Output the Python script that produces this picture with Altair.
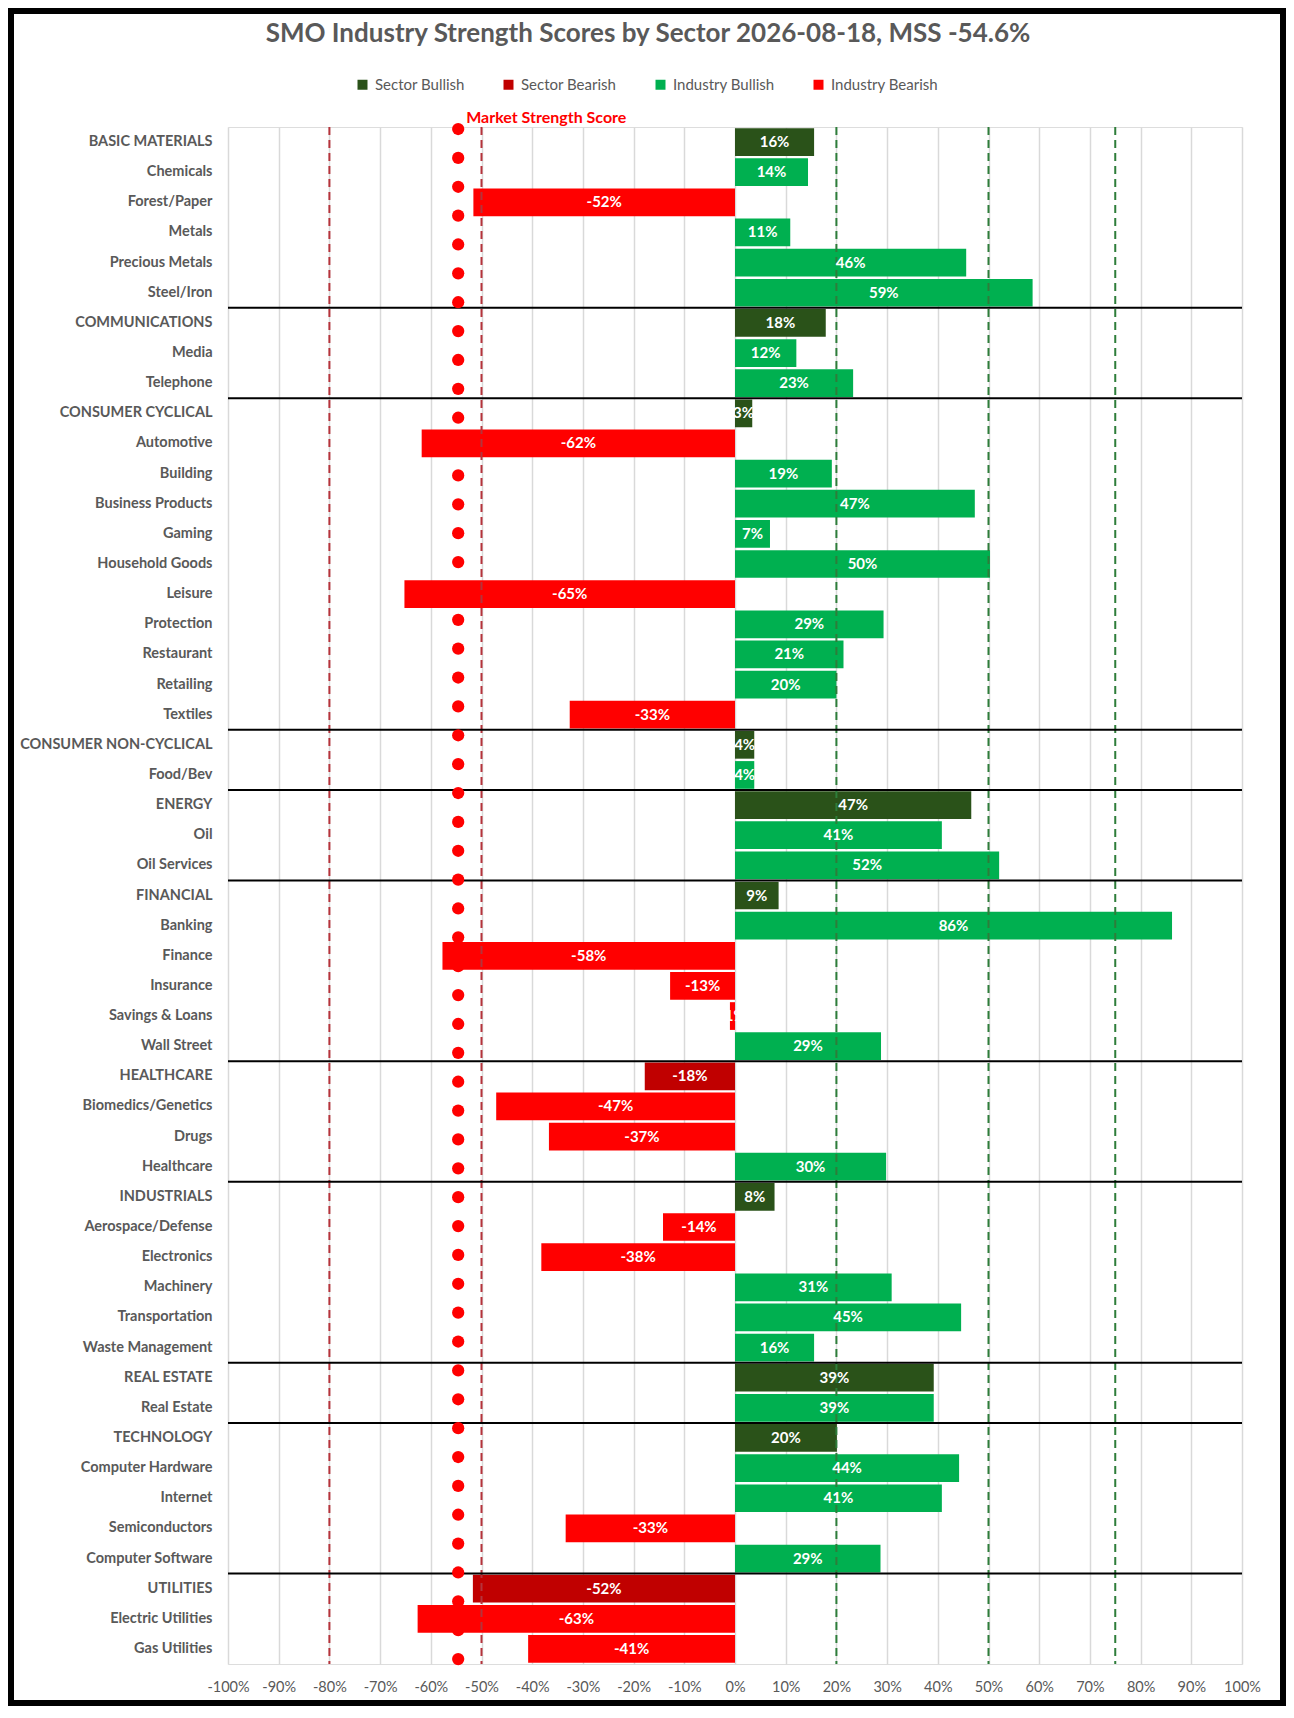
import altair as alt
import pandas as pd

# ---------------- data ----------------
labels = [
    "BASIC MATERIALS", "Chemicals", "Forest/Paper", "Metals", "Precious Metals", "Steel/Iron",
    "COMMUNICATIONS", "Media", "Telephone",
    "CONSUMER CYCLICAL", "Automotive", "Building", "Business Products", "Gaming",
    "Household Goods", "Leisure", "Protection", "Restaurant", "Retailing", "Textiles",
    "CONSUMER NON-CYCLICAL", "Food/Bev",
    "ENERGY", "Oil", "Oil Services",
    "FINANCIAL", "Banking", "Finance", "Insurance", "Savings & Loans", "Wall Street",
    "HEALTHCARE", "Biomedics/Genetics", "Drugs", "Healthcare",
    "INDUSTRIALS", "Aerospace/Defense", "Electronics", "Machinery", "Transportation", "Waste Management",
    "REAL ESTATE", "Real Estate",
    "TECHNOLOGY", "Computer Hardware", "Internet", "Semiconductors", "Computer Software",
    "UTILITIES", "Electric Utilities", "Gas Utilities",
]
values = [
    15.6, 14.4, -51.6, 10.9, 45.6, 58.7,
    17.9, 12.1, 23.3,
    3.4, -61.8, 19.1, 47.3, 6.9, 50.3, -65.2, 29.3, 21.4, 20.0, -32.6,
    3.8, 3.8,
    46.6, 40.8, 52.1,
    8.6, 86.2, -57.7, -12.8, -1.0, 28.8,
    -17.8, -47.1, -36.7, 29.8,
    7.8, -14.2, -38.2, 30.9, 44.6, 15.6,
    39.2, 39.2,
    20.1, 44.2, 40.8, -33.4, 28.7,
    -51.7, -62.6, -40.8,
]
sector_labels = [
    "BASIC MATERIALS", "COMMUNICATIONS", "CONSUMER CYCLICAL", "CONSUMER NON-CYCLICAL",
    "ENERGY", "FINANCIAL", "HEALTHCARE", "INDUSTRIALS", "REAL ESTATE", "TECHNOLOGY", "UTILITIES",
]
legend_names = ["Sector Bullish", "Sector Bearish", "Industry Bullish", "Industry Bearish"]
legend_colors = ["#2A5219", "#C00000", "#00B050", "#FF0000"]

mss = -54.6
dot_index = list(range(54))

bear_lines = [-80, -50]
bull_lines = [20, 50, 75]
x_ticks = list(range(-100, 101, 10))

title_text = "SMO Industry Strength Scores by Sector 2026-08-18, MSS -54.6%"

# ---------------- tables ----------------
rows = []
for lab, v in zip(labels, values):
    is_sec = lab in sector_labels
    kind = ("Sector" if is_sec else "Industry") + (" Bullish" if v >= 0 else " Bearish")
    rows.append({
        "label": lab,
        "value": v,
        "cat": kind,
        "txt": f"{round(v):d}%",
        "sector_start": is_sec and lab != labels[0],
        "lo": x_ticks[0],
        "hi": x_ticks[-1],
    })
df = pd.DataFrame(rows)

ref_df = pd.DataFrame(
    [{"ref": r, "col": "#B5333B"} for r in bear_lines]
    + [{"ref": r, "col": "#2E7D3A"} for r in bull_lines]
)
dots_df = pd.DataFrame({"idx": dot_index, "mss": [mss] * len(dot_index)})
mtext_df = dots_df.iloc[[0]].assign(t="Market Strength Score")

FONT = "Lato"
GRAY = "#595959"
W, H = 1014, 1537

y_enc = alt.Y(
    "label:N",
    sort=labels,
    scale=alt.Scale(paddingInner=0.08, paddingOuter=0.04),
    axis=alt.Axis(
        title=None, ticks=False, domain=False, labelFontSize=14.5, labelFontWeight="bold",
        labelColor=GRAY, labelFont=FONT, labelPadding=16, labelLimit=400,
    ),
)
x_enc = alt.X(
    "value:Q",
    scale=alt.Scale(domain=[-100, 100], nice=False),
    axis=alt.Axis(
        values=x_ticks, labelExpr="datum.value + '%'", grid=True, gridColor="#D9D9D9",
        gridWidth=1.5, ticks=False, domain=False, title=None, labelFontSize=14.5,
        labelColor=GRAY, labelFont=FONT, labelPadding=16, labelOverlap=False,
        labelFlush=False,
    ),
)

base = alt.Chart(df)

bars = base.mark_bar().encode(
    x=x_enc,
    y=y_enc,
    color=alt.Color(
        "cat:N",
        scale=alt.Scale(domain=legend_names, range=legend_colors),
        legend=alt.Legend(
            title=None, orient="none", legendX=127, legendY=-50, direction="horizontal",
            symbolType="square", symbolSize=100, symbolStrokeWidth=0, labelFontSize=15,
            labelColor=GRAY, labelFont=FONT, columnPadding=36, labelOffset=5,
        ),
    ),
)

bar_text = base.transform_calculate(mid="datum.value / 2").mark_text(
    color="white", font=FONT, fontWeight="bold", fontSize=15, baseline="middle", align="center"
).encode(
    x=alt.X("mid:Q"),
    y=alt.Y("label:N", sort=labels),
    text="txt:N",
)

ref_rules = alt.Chart(ref_df).mark_rule(strokeDash=[8, 5], strokeWidth=2).encode(
    x=alt.X("ref:Q"),
    color=alt.Color("col:N", scale=None),
)

seps = base.transform_filter("datum.sector_start").mark_rule(
    color="black", strokeWidth=2, yOffset=-1.2
).encode(
    x=alt.X("lo:Q"),
    x2="hi:Q",
    y=alt.Y("label:N", sort=labels, bandPosition=0),
)

main = alt.layer(bars, ref_rules, bar_text, seps)

dot_y = alt.Y(
    "idx:Q",
    scale=alt.Scale(domain=[-0.07, 53.17], reverse=True, nice=False, zero=False),
    axis=None,
)
dots = alt.Chart(dots_df).mark_circle(size=150, color="#FF0000", opacity=1).encode(
    x=alt.X("mss:Q"),
    y=dot_y,
)
mtext = alt.Chart(mtext_df).mark_text(
    color="#FF0000", font=FONT, fontWeight="bold", fontSize=16, align="left",
    baseline="bottom", dx=8, dy=-3,
).encode(
    x=alt.X("mss:Q"),
    y=dot_y,
    text="t:N",
)
dot_layer = alt.layer(dots, mtext)

frame = alt.Chart(pd.DataFrame({"k": [0]})).mark_rect(
    fillOpacity=0, stroke="black", strokeWidth=6
).encode(
    x=alt.value(-217), x2=alt.value(1055), y=alt.value(-116), y2=alt.value(1576)
)

chart = alt.layer(main, dot_layer, frame).resolve_scale(y="independent").properties(
    width=W,
    height=H,
    padding={"left": 220, "top": 119, "right": 44, "bottom": 42},
    autosize=alt.AutoSizeParams(type="none"),
    title=alt.TitleParams(
        text=title_text, font=FONT, fontSize=26, fontWeight="bold", color=GRAY,
        anchor="middle", dx=-87, offset=-39,
    ),
).configure_view(stroke=None).configure(background="white")

chart.save("out.html", embed_options={"renderer": "svg", "actions": False})
